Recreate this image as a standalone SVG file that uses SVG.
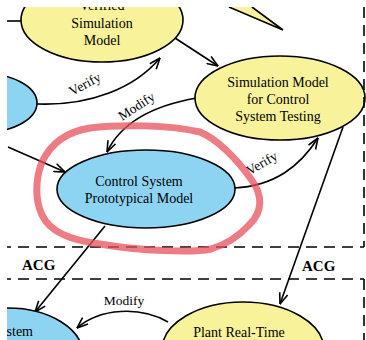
<svg xmlns="http://www.w3.org/2000/svg" width="366" height="340" viewBox="0 0 366 340">
<style>
.y{fill:#f8f29a;stroke:#000;stroke-width:1.6}
.b{fill:#8cd4f2;stroke:#000;stroke-width:1.6}
text{font-family:'Liberation Serif','DejaVu Serif',serif;fill:#000}
.t{font-size:14px;text-anchor:middle}
.l{font-size:13.5px;text-anchor:middle}
.acg{font-size:15px;font-weight:bold}
.c{fill:none;stroke:#000;stroke-width:1.6}
.a{marker-end:url(#ah)}
.d{fill:none;stroke:#000;stroke-width:1.6;stroke-dasharray:11 7}
</style>
<defs>
<marker id="ah" viewBox="0 0 12 10" refX="11.5" refY="5" markerWidth="12" markerHeight="10" orient="auto" markerUnits="userSpaceOnUse">
<path d="M0.5,0.8 L11.5,5 L0.5,9.2" fill="none" stroke="#000" stroke-width="1.6"/>
</marker>
<clipPath id="cp"><rect x="7" y="7" width="359" height="333"/></clipPath>
</defs>
<rect width="366" height="340" fill="#fff"/>
<g clip-path="url(#cp)" font-family="Liberation Serif, DejaVu Serif, serif">
<g id="connectors">
<line class="c" x1="0" y1="21" x2="22" y2="21"/>
<path class="c a" d="M175,38 L218,66"/>
<path class="c a" d="M37,104 C90,106 135,88 160,58"/>
<path class="c a" d="M197,98 C150,106 120,125 107,152"/>
<path class="c a" d="M8,147 L65,172"/>
<path class="c a" d="M234,188 C275,186 300,166 318,138"/>
<path class="c a" d="M343,127 L280,304"/>
<path class="c a" d="M105,226 L35,312"/>
<path class="c a" d="M168,322 C140,306 100,308 77,328"/>
</g>
<g id="n-sliver">
<path d="M229,7 L252,7 L283,30 Z" fill="#f8f29a"/>
<polyline points="229,7 283,30 252,7" fill="none" stroke="#000" stroke-width="1.6"/>
</g>
<g id="n-verified">
<ellipse class="y" cx="102" cy="20" rx="81" ry="42"/>
<text class="t" x="102" y="10">Verified</text>
<text class="t" x="102" y="28">Simulation</text>
<text class="t" x="102" y="45">Model</text>
</g>
<g id="n-leftblue">
<ellipse class="b" cx="-20" cy="103" rx="57" ry="30"/>
</g>
<g id="n-simtest">
<ellipse class="y" cx="280" cy="98" rx="85" ry="42"/>
<text class="t" x="278" y="87">Simulation Model</text>
<text class="t" x="278" y="104">for Control</text>
<text class="t" x="278" y="121">System Testing</text>
</g>
<g id="n-control">
<ellipse class="b" cx="146" cy="189" rx="89" ry="39"/>
<text class="t" x="139" y="186">Control System</text>
<text class="t" x="139" y="203">Prototypical Model</text>
</g>
<g id="n-system">
<ellipse class="b" cx="8" cy="355" rx="75" ry="47"/>
<text class="t" x="33" y="336" style="text-anchor:end">System</text>
</g>
<g id="n-plant">
<ellipse class="y" cx="243" cy="350" rx="81" ry="48"/>
<text class="t" x="239" y="337">Plant Real-Time</text>
</g>
<g id="labels">
<text class="l" transform="translate(87,88) rotate(-28)">Verify</text>
<text class="l" transform="translate(139,110) rotate(-33)">Modify</text>
<text class="l" transform="translate(264,167) rotate(-30)">Verify</text>
<text class="l" x="124" y="305">Modify</text>
</g>
<g id="boundaries">
<path class="d" d="M0,247 H364 M0,279 H364 M364,7 V247 M364,279 V340"/>
<text class="acg" x="22" y="270">ACG</text>
<text class="acg" x="302" y="271">ACG</text>
</g>
<path id="highlight" d="M200,132 C217,139 236,158 251,179 C263,195 263,212 249,225 C239,236 228,244 211,249 C193,253 140,251 100,244 C70,240 50,232 42,215 C35,200 35,180 42,162 C50,145 65,132 90,128 C120,124 170,125 200,132 Z" fill="none" stroke="#e8505c" stroke-opacity="0.75" stroke-width="7" stroke-linejoin="round"/>
</g>
</svg>
